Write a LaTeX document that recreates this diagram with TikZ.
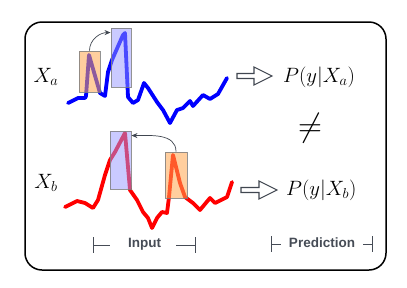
\documentclass[tikz,border=0pt]{standalone}
\usepackage{fontspec}
\setsansfont{Liberation Sans}
\usetikzlibrary{arrows.meta}
\definecolor{boxorange}{RGB}{255,165,79}
\definecolor{boxblue}{RGB}{150,150,255}
\definecolor{slate}{RGB}{70,76,86}
\definecolor{arrgray}{RGB}{64,70,80}
\tikzset{
  series/.style={line width=3.8pt, line join=round, line cap=round},
  obox/.style={draw=gray, line width=0.9pt, fill=boxorange, fill opacity=0.55, draw opacity=0.85, inner sep=0pt},
  bbox/.style={draw=gray, line width=0.9pt, fill=boxblue, fill opacity=0.5, draw opacity=0.85, inner sep=0pt},
  jump/.style={draw=arrgray, line width=0.7pt, -{Stealth[length=6pt,width=5pt]}},
  hollow/.style={draw=arrgray, line width=1.1pt, fill=white, line join=miter},
  bracket/.style={draw=slate, line width=1pt},
  lbl/.style={font=\sffamily\bfseries\fontsize{13.5}{16}\selectfont, text=slate, inner sep=0pt},
  mathlbl/.style={font=\fontsize{20}{24}\selectfont, inner sep=0pt}
}
\newcommand{\hollowarr}[3]{%
  \draw[hollow] (#1,#2-2.5) -- ++(#3-18,0) -- ++(0,-6.5) -- (#1+#3,#2) -- (#1+#3-18,#2+9) -- ++(0,-6.5) -- (#1,#2+2.5) -- cycle;}
\begin{document}
\begin{tikzpicture}[x=1pt,y=-1pt]
\useasboundingbox (0,0) rectangle (407,287);
% frame
\draw[line width=1.5pt, rounded corners=17pt] (25,22) rectangle (386,270);

% series a (blue)
\draw[series, blue] (68,103) -- (78,98) -- (85,98) -- (86,96) -- (89,55) -- (100,93) -- (105,96)
  -- (108,72) -- (112,60) -- (123,35) -- (125,33) -- (128,97) -- (133,103) -- (138,100)
  -- (144,83) -- (148,88) -- (157,102) -- (163,110) -- (170,123) -- (177,110) -- (183,108)
  -- (190,101) -- (193,106) -- (203,95) -- (210,99) -- (218,94) -- (227,78);

% series b (red)
\draw[series, red] (65,207) -- (77,201) -- (85,203) -- (93,208) -- (98,200) -- (105,175)
  -- (110,160) -- (115,152) -- (125,133) -- (130,190) -- (137,200) -- (143,212) -- (148,218)
  -- (152,228) -- (157,218) -- (162,212) -- (167,213) -- (169,197) -- (173,155) -- (180,183)
  -- (185,197) -- (193,203) -- (200,210) -- (210,198) -- (215,203) -- (227,197) -- (232,182);

% boxes
\node[obox, minimum width=21pt, minimum height=41pt] (oa) at (89.5,71.5) {};
\node[bbox, minimum width=20pt, minimum height=59pt] (ba) at (121,57.5) {};
\node[bbox, minimum width=21pt, minimum height=58pt] (bb) at (120.5,160) {};
\node[obox, minimum width=22pt, minimum height=46pt] (ob) at (176,175) {};

% jump arrows
\draw[jump] (oa.north) to[out=90,in=180] ([yshift=-5pt]ba.north west);
\draw[jump] (ob.north) to[out=90,in=0] ([yshift=-5pt]bb.north east);

% labels
\node[mathlbl] (xa) at (46,77) {$X_a$};
\node[mathlbl] (xb) at (46,183) {$X_b$};

% hollow arrows
\hollowarr{237}{76}{35}
\hollowarr{241}{190}{36}

\node[mathlbl, anchor=west] (pa) at (283,77) {$P(y|X_a)$};
\node[mathlbl, anchor=west] (pb) at (286,190) {$P(y|X_b)$};
\node[font=\fontsize{20}{24}\selectfont, inner sep=0pt] (neq) at (310,128) {\scalebox{1.6}{$\neq$}};

% input / prediction
\node[lbl] (inp) at (144.5,244) {Input};
\node[lbl] (pred) at (322,243) {Prediction};
\coordinate (il) at (93,245);
\coordinate (ir) at (195,245);
\draw[bracket] (93,237) -- (93,253);
\draw[bracket] (il) -- (110,245);
\draw[bracket] (176,245) -- (ir);
\draw[bracket] (195,237) -- (195,253);
\draw[bracket] (271,236) -- (271,252);
\draw[bracket] (271,244) -- (281,244);
\draw[bracket] (363,244) -- (372,244);
\draw[bracket] (372,236) -- (372,252);
\end{tikzpicture}
\end{document}
